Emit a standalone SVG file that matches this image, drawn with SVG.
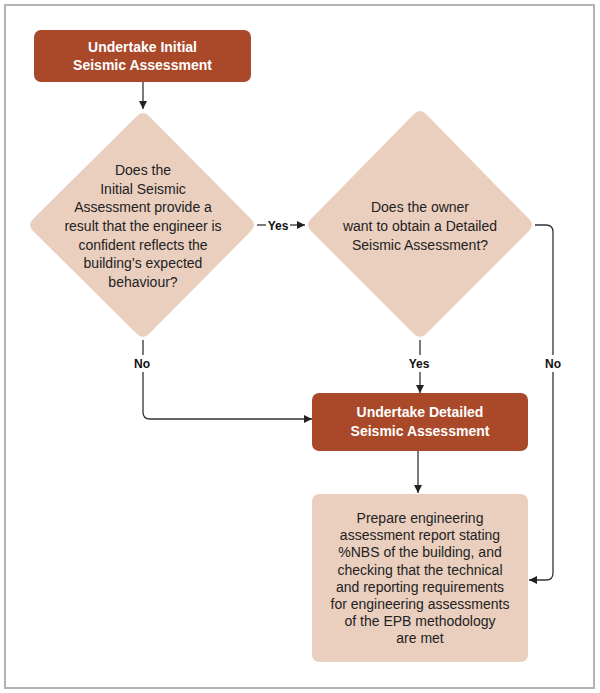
<svg xmlns="http://www.w3.org/2000/svg" width="600" height="693" viewBox="0 0 600 693">
<defs>
<style>
.frame{fill:#fff;stroke:#b3b3b3;stroke-width:2}
.dark{fill:#a9492a}
.light{fill:#eacfbf}
.wt{font-family:"Liberation Sans",Arial,sans-serif;font-size:14px;font-weight:bold;fill:#fff;text-anchor:middle}
.bt{font-family:"Liberation Sans",Arial,sans-serif;font-size:14px;fill:#222;text-anchor:middle}
.lbl{font-family:"Liberation Sans",Arial,sans-serif;font-size:12px;font-weight:bold;fill:#111;text-anchor:middle}
.ln{fill:none;stroke:#333;stroke-width:1.3}
</style>
<marker id="ah" viewBox="0 0 10 10" refX="10" refY="5" markerWidth="8" markerHeight="8" markerUnits="userSpaceOnUse" orient="auto">
<path d="M0,0 L10,5 L0,10 z" fill="#222"/>
</marker>
</defs>
<rect class="frame" x="5" y="5" width="589" height="683"/>

<g id="connectors">
<line class="ln" x1="143" y1="82" x2="143" y2="109" marker-end="url(#ah)"/>
<line class="ln" x1="257" y1="225" x2="266" y2="225"/>
<line class="ln" x1="290" y1="225" x2="305" y2="225" marker-end="url(#ah)"/>
<path class="ln" d="M143,340 V355 M143,372 V412 Q143,419 150,419 H312" marker-end="url(#ah)"/>
<path class="ln" d="M420,340 V355 M420,372 V393" marker-end="url(#ah)"/>
<path class="ln" d="M535,225 H546 Q553,225 553,232 V355 M553,372 V573 Q553,580 546,580 H529" marker-end="url(#ah)"/>
<line class="ln" x1="418" y1="451" x2="418" y2="493" marker-end="url(#ah)"/>
<text class="lbl" x="278" y="229.5">Yes</text>
<text class="lbl" x="142" y="368">No</text>
<text class="lbl" x="419" y="368">Yes</text>
<text class="lbl" x="553" y="368">No</text>
</g>

<g id="initial">
<rect class="dark" x="34" y="30" width="217" height="52" rx="7"/>
<text class="wt" x="142.5" y="52">Undertake Initial</text>
<text class="wt" x="142.5" y="70">Seismic Assessment</text>
</g>

<g id="q1">
<path class="light" d="M137,116 Q143,110 149,116 L251,219 Q257,225 251,231 L149,334 Q143,340 137,334 L33,231 Q27,225 33,219 Z"/>
<text class="bt" x="143" y="175">Does the</text>
<text class="bt" x="143" y="193.5">Initial Seismic</text>
<text class="bt" x="143" y="212">Assessment provide a</text>
<text class="bt" x="143" y="231">result that the engineer is</text>
<text class="bt" x="143" y="249.5">confident reflects the</text>
<text class="bt" x="143" y="268">building’s expected</text>
<text class="bt" x="143" y="287">behaviour?</text>
</g>

<g id="q2">
<path class="light" d="M414,114 Q420,108 426,114 L529,219 Q535,225 529,231 L426,334 Q420,340 414,334 L311,231 Q305,225 311,219 Z"/>
<text class="bt" x="420" y="212">Does the owner</text>
<text class="bt" x="420" y="231">want to obtain a Detailed</text>
<text class="bt" x="420" y="250">Seismic Assessment?</text>
</g>

<g id="detailed">
<rect class="dark" x="312" y="393" width="216" height="58" rx="7"/>
<text class="wt" x="420" y="417">Undertake Detailed</text>
<text class="wt" x="420" y="436">Seismic Assessment</text>
</g>

<g id="report">
<rect class="light" x="312" y="494" width="216" height="168" rx="7"/>
<text class="bt" x="420" y="523">Prepare engineering</text>
<text class="bt" x="420" y="540">assessment report stating</text>
<text class="bt" x="420" y="557">%NBS of the building, and</text>
<text class="bt" x="420" y="574.5">checking that the technical</text>
<text class="bt" x="420" y="591.5">and reporting requirements</text>
<text class="bt" x="420" y="609">for engineering assessments</text>
<text class="bt" x="420" y="626">of the EPB methodology</text>
<text class="bt" x="420" y="643">are met</text>
</g>
</svg>
